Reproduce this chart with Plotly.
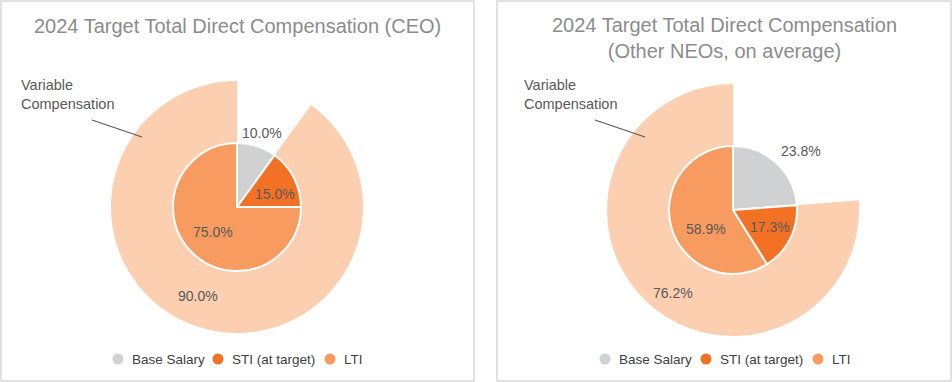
import math
import plotly.graph_objects as go

# ---------------- data ----------------
categories = ["Base Salary", "STI (at target)", "LTI"]
ceo_values = [10.0, 15.0, 75.0]
neo_values = [23.8, 17.3, 58.9]
variable_categories = ["Fixed", "Variable Compensation"]
ceo_variable = [10.0, 90.0]
neo_variable = [23.8, 76.2]
ceo_title = "2024 Target Total Direct Compensation (CEO)"
neo_title = "2024 Target Total Direct Compensation<br>(Other NEOs, on average)"
variable_label = "Variable<br>Compensation"

# ---------------- style ----------------
W, H = 952, 382
FONT = "Liberation Sans, Arial, sans-serif"
colors = ["#D0D1D3", "#F37125", "#F79B60"]
outer_color = "#FCCFB0"
label_color = "#595959"
title_color = "#8C8C8C"

panels = [
    dict(values=ceo_values, variable=ceo_variable, title=ceo_title,
         cx=237, cy=207, box=(1, 1, 474, 381), title_y=26,
         # label placement: (angle deg clockwise from top, radius px)
         inner_lab=[(19, 78), (71, 40), (224, 35)], outer_lab=(204, 97),
         callout=((92, 120), (142, 137)), callout_text=(19, 94),
         legend_marker_x=[118, 218, 330]),
    dict(values=neo_values, variable=neo_variable, title=neo_title,
         cx=733, cy=210, box=(497, 1, 951, 381), title_y=38,
         inner_lab=[(49, 90), (115, 41), (235, 33)], outer_lab=(216, 102),
         callout=((595, 120), (645, 137)), callout_text=(522, 94),
         legend_marker_x=[605, 706, 818]),
]
R_IN, R_OUT = 64, 126
LEGEND_Y = 359


def px(x):
    return x / W


def py(y):
    return 1 - y / H


fig = go.Figure()
shapes = []
annotations = []

for p in panels:
    cx, cy = p["cx"], p["cy"]
    # outer ring (variable compensation)
    fig.add_trace(go.Pie(
        labels=variable_categories, values=p["variable"], sort=False,
        direction="clockwise", rotation=0,
        marker=dict(colors=["rgba(0,0,0,0)", outer_color], line=dict(width=0)),
        textinfo="none", hoverinfo="skip", showlegend=False,
        domain=dict(x=[px(cx - R_OUT), px(cx + R_OUT)], y=[py(cy + R_OUT), py(cy - R_OUT)]),
    ))
    # inner pie
    fig.add_trace(go.Pie(
        labels=categories, values=p["values"], sort=False,
        direction="clockwise", rotation=0,
        marker=dict(colors=colors, line=dict(color="white", width=2)),
        textinfo="none", showlegend=False,
        domain=dict(x=[px(cx - R_IN), px(cx + R_IN)], y=[py(cy + R_IN), py(cy - R_IN)]),
    ))
    # data labels
    labs = [(v, a, r) for v, (a, r) in zip(p["values"], p["inner_lab"])]
    labs.append((p["variable"][1], p["outer_lab"][0], p["outer_lab"][1]))
    for v, a, r in labs:
        t = math.radians(a)
        x = cx + r * math.sin(t)
        y = cy - r * math.cos(t)
        annotations.append(dict(
            x=px(x), y=py(y), xref="paper", yref="paper", showarrow=False,
            text=f"{v:.1f}%", font=dict(family=FONT, size=14, color=label_color),
            xanchor="center", yanchor="middle"))
    # title
    bx0, by0, bx1, by1 = p["box"]
    annotations.append(dict(
        x=px((bx0 + bx1) / 2), y=py(p["title_y"]), xref="paper", yref="paper",
        showarrow=False, text=p["title"], align="center",
        font=dict(family=FONT, size=20, color=title_color),
        xanchor="center", yanchor="middle"))
    # callout
    (x0, y0), (x1, y1) = p["callout"]
    shapes.append(dict(type="line", xref="paper", yref="paper",
                       x0=px(x0), y0=py(y0), x1=px(x1), y1=py(y1),
                       line=dict(color="#595959", width=1.2)))
    tx, ty = p["callout_text"]
    annotations.append(dict(
        x=px(tx), y=py(ty), xref="paper", yref="paper", showarrow=False,
        text=variable_label, align="left",
        font=dict(family=FONT, size=14.5, color=label_color),
        xanchor="left", yanchor="middle"))
    # panel border
    shapes.append(dict(type="rect", xref="paper", yref="paper",
                       x0=px(bx0), y0=py(by1), x1=px(bx1), y1=py(by0),
                       line=dict(color="#D9D9D9", width=1.5), layer="below"))
    # legend (circle marker + text)
    for c, col, mx in zip(categories, colors, p["legend_marker_x"]):
        shapes.append(dict(type="circle", xref="paper", yref="paper",
                           xsizemode="pixel", ysizemode="pixel",
                           xanchor=px(mx), yanchor=py(LEGEND_Y),
                           x0=-5.5, x1=5.5, y0=-5.5, y1=5.5,
                           fillcolor=col, line=dict(width=0)))
        annotations.append(dict(
            x=px(mx + 12), y=py(LEGEND_Y), xref="paper", yref="paper",
            showarrow=False, text=c, xanchor="left", yanchor="middle",
            font=dict(family=FONT, size=13.5, color="#404040")))

fig.update_layout(
    width=W, height=H,
    margin=dict(l=0, r=0, t=0, b=0),
    paper_bgcolor="white", plot_bgcolor="white",
    showlegend=False,
    shapes=shapes, annotations=annotations,
)

fig.write_html(
    "out.html",
    config={"displayModeBar": False},
    post_script="document.body.style.margin='0';document.body.style.overflow='hidden';",
)
